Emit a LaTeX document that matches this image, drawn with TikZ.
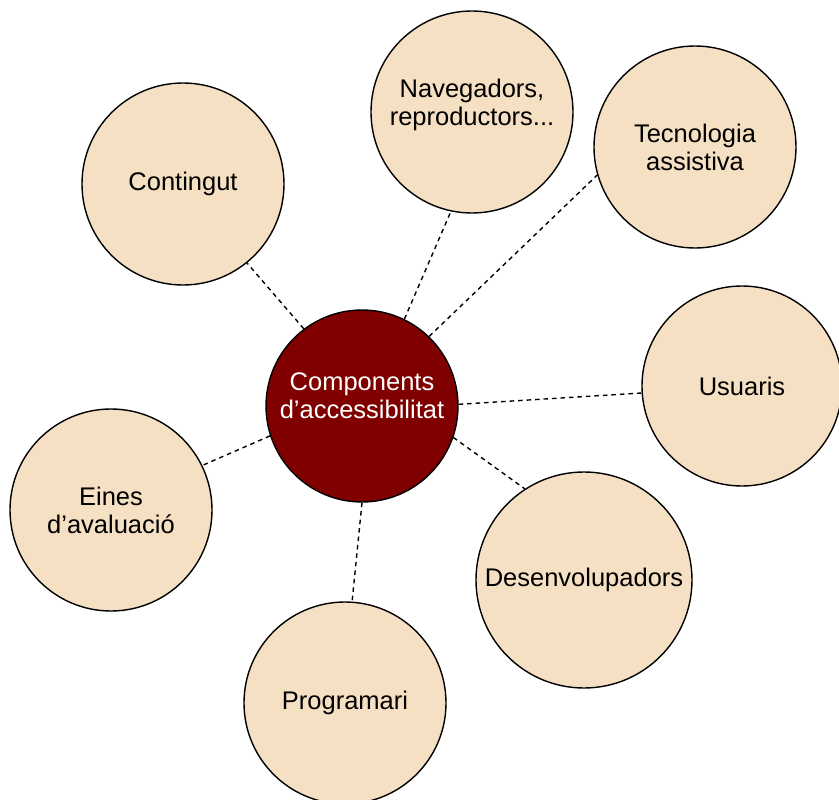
\documentclass[tikz,border=0pt]{standalone}
\usepackage{fontspec}
\setmainfont{Liberation Sans}
\definecolor{beige}{HTML}{F5E0C3}
\definecolor{darkred}{HTML}{800000}
\begin{document}
\begin{tikzpicture}[x=1pt,y=-1pt,
  txt/.style={align=center,font=\fontsize{25.5}{28}\selectfont,text=black,inner sep=0pt},
  bubble/.style={circle,draw=black,line width=1.4pt,fill=beige,inner sep=0pt,txt},
  hub/.style={bubble,fill=darkred,text=white},
  link/.style={draw=black,line width=1.4pt,dash pattern=on 4.5pt off 4pt}]
\useasboundingbox (0,0) rectangle (839,800);
\begin{scope}
\clip (0,0) rectangle (839,800);
\node[hub,minimum size=192pt] (c) at (362,406) {};
\node[txt,text=white] (ct) at (362,396) {Components\\d’accessibilitat};
\node[bubble,minimum size=202pt] (cont) at (183,184) {Contingut};
\node[bubble,minimum size=202pt] (nav) at (472,112) {};
\node[txt] (navt) at (472,105) {Navegadors,\\reproductors...};
\node[bubble,minimum size=202pt] (tec) at (695,147) {Tecnologia\\assistiva};
\node[bubble,minimum size=200pt] (usu) at (742,386) {Usuaris};
\node[bubble,minimum size=216pt] (des) at (584,580) {Desenvolupadors};
\node[bubble,minimum size=202pt] (prog) at (345,703) {Programari};
\node[bubble,minimum size=202pt] (eines) at (111,510) {Eines\\d’avaluació};
\draw[link] (c.127) -- (cont.-51);
\draw[link] (c.64) -- (nav.258);
\draw[link] (c.46.6) -- (tec.196.5);
\draw[link] (c.1) -- (usu.184.6);
\draw[link] (c.-19) -- (des.123);
\draw[link] (c.-90) -- (prog.86);
\draw[link] (c.198) -- (eines.26);
\end{scope}
\end{tikzpicture}
\end{document}
